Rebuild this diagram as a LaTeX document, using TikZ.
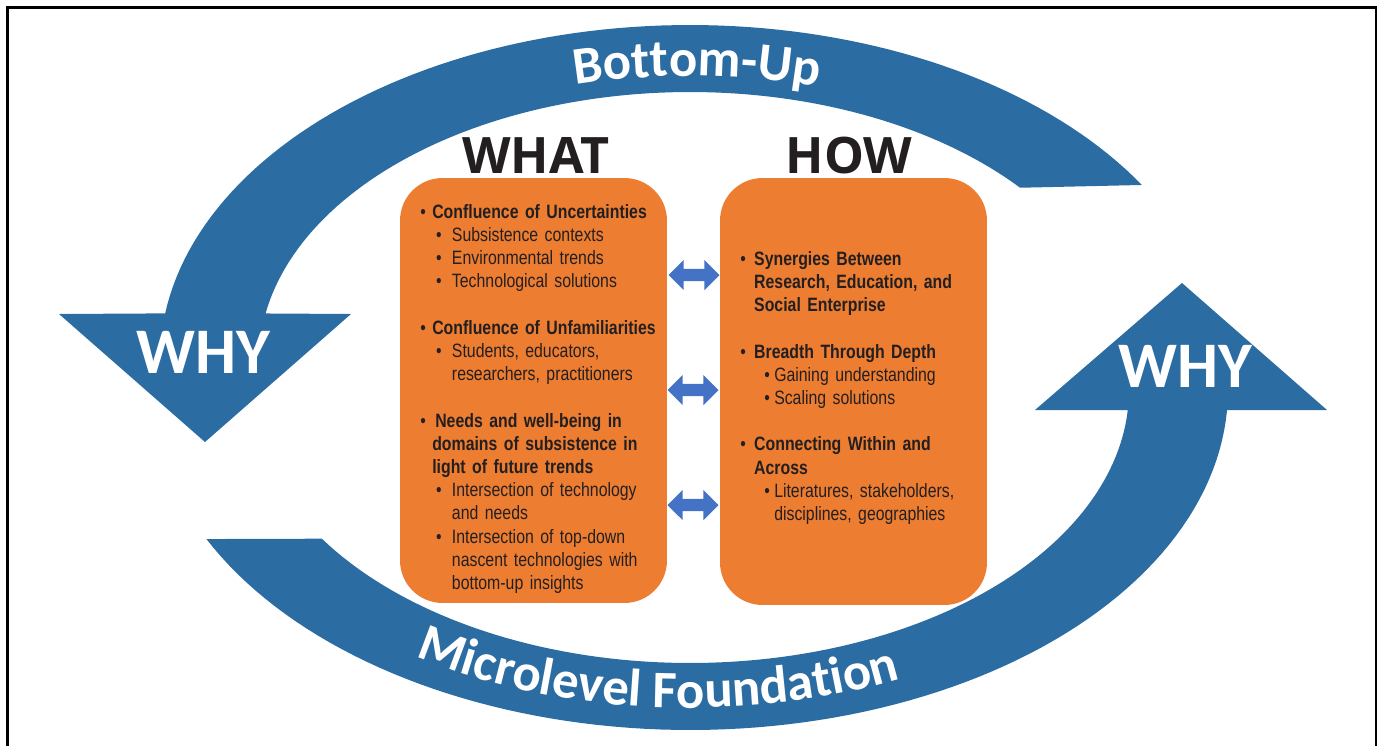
\documentclass[tikz,border=0pt]{standalone}
\usepackage{fontspec}
\setmainfont{Liberation Sans}
\newfontfamily\boxfont[FakeStretch=0.82]{Liberation Sans}
\newfontfamily\arcfont{Carlito}
\newfontfamily\headfont{Open Sans}
\usetikzlibrary{shapes.arrows,decorations.text}

\definecolor{loopblue}{RGB}{43,108,163}
\definecolor{boxorange}{RGB}{237,125,49}
\definecolor{linkblue}{RGB}{68,114,196}
\definecolor{boxtext}{RGB}{35,31,32}

% bullets: width of the bullet box, then the text
\newcommand{\bul}[2]{\makebox[#1][l]{\textbullet}#2}

\tikzset{
  panel/.style={fill=boxorange, rounded corners=0.85cm, minimum width=5.34cm, inner sep=0pt},
  link/.style={double arrow, fill=linkblue, double arrow head extend=0.18cm,
    minimum height=1.02cm, inner xsep=0pt, inner ysep=0.115cm},
  listtext/.style={anchor=north west, inner sep=0pt, text width=6cm, align=left,
    text=boxtext, font=\boxfont\fontsize{11pt}{13.2pt}\selectfont},
  heading/.style={anchor=base, inner sep=0pt, font=\headfont\bfseries\fontsize{28.6pt}{30pt}\selectfont, text=boxtext},
  why/.style={anchor=base, inner sep=0pt, font=\arcfont\bfseries\fontsize{37pt}{40pt}\selectfont, text=white},
}

\begin{document}
\begin{tikzpicture}[x=0.02cm, y=-0.02cm]
  \useasboundingbox (0,0) rectangle (1380,745);
  \clip (0,0) rectangle (1380,745);
  \draw[line width=0.05cm] (7.5,7.5) rectangle (1376,800);

  % the two big loop arrows
  \fill[loopblue] plot[domain=31.5:172, samples=90, variable=\t] ({690+530*cos(\t)},{360-335*sin(\t)})
    -- (59,314) -- (205,442) -- (351,314)
    -- plot[domain=40:170, samples=90, variable=\t] ({690+431*cos(210-\t)},{360-268*sin(210-\t)})
    -- cycle;
  \fill[loopblue] plot[domain=3.4:154, samples=90, variable=\t] ({690+538*cos(157.4-\t)},{390+340*sin(157.4-\t)})
    -- (1327,410) -- (1182,283) -- (1035,410)
    -- plot[domain=4.2:147, samples=90, variable=\t] ({690+439*cos(\t)},{390+273*sin(\t)})
    -- cycle;

  % texts along the loops
  \path[decorate, decoration={text along path, text align=center,
      text={|\arcfont\bfseries\fontsize{30pt}{30pt}\selectfont\color{white}|Bottom-Up}}]
    plot[domain=-40:42, samples=60, variable=\s] ({690+470*sin(\s)},{360-284*cos(\s)});
  \path[decorate, decoration={text along path, text align=center,
      text={|\arcfont\bfseries\fontsize{30pt}{30pt}\selectfont\color{white}|Microlevel Foundation}}]
    plot[domain=-61:51, samples=80, variable=\s] ({690+503*sin(\s)},{390+318*cos(\s)});

  \node[why] (whyleft) at (203,373) {WHY};
  \node[why] (whyright) at (1185,387) {WHY};

  % headings and panels
  \node[heading] (whathead) at (536,173) {WHAT};
  \node[heading] (howhead) at (849,173) {HOW};

  \node[panel, minimum height=8.5cm] (what) at (533.5,390.5) {};
  \node[panel, minimum height=8.54cm] (how) at (853.5,391.5) {};

  \node[listtext] (whatlist) at (420,204) {%
    \bul{6.8pt}{\textbf{Confluence of Uncertainties}}\\
    \hspace*{9pt}\bul{9pt}{Subsistence contexts}\\
    \hspace*{9pt}\bul{9pt}{Environmental trends}\\
    \hspace*{9pt}\bul{9pt}{Technological solutions}\\[13.2pt]
    \bul{6.8pt}{\textbf{Confluence of Unfamiliarities}}\\
    \hspace*{9pt}\bul{9pt}{Students, educators,}\\
    \hspace*{18pt}researchers, practitioners\\[13.2pt]
    \bul{8.5pt}{\textbf{Needs and well-being in}}\\
    \hspace*{6.8pt}\textbf{domains of subsistence in}\\
    \hspace*{6.8pt}\textbf{light of future trends}\\
    \hspace*{9pt}\bul{9pt}{Intersection of technology}\\
    \hspace*{18pt}and needs\\
    \hspace*{9pt}\bul{9pt}{Intersection of top-down}\\
    \hspace*{18pt}nascent technologies with\\
    \hspace*{18pt}bottom-up insights};

  \node[listtext] (howlist) at (740,251) {%
    \bul{7.9pt}{\textbf{Synergies Between}}\\
    \hspace*{7.9pt}\textbf{Research, Education, and}\\
    \hspace*{7.9pt}\textbf{Social Enterprise}\\[13.2pt]
    \bul{7.9pt}{\textbf{Breadth Through Depth}}\\
    \hspace*{13.6pt}\bul{5.7pt}{Gaining understanding}\\
    \hspace*{13.6pt}\bul{5.7pt}{Scaling solutions}\\[13.2pt]
    \bul{7.9pt}{\textbf{Connecting Within and}}\\
    \hspace*{7.9pt}\textbf{Across}\\
    \hspace*{13.6pt}\bul{5.7pt}{Literatures, stakeholders,}\\
    \hspace*{19.3pt}disciplines, geographies};

  % links between the panels
  \node[link] (link1) at (694,275) {};
  \node[link] (link2) at (693,390) {};
  \node[link] (link3) at (693,505) {};
\end{tikzpicture}
\end{document}
